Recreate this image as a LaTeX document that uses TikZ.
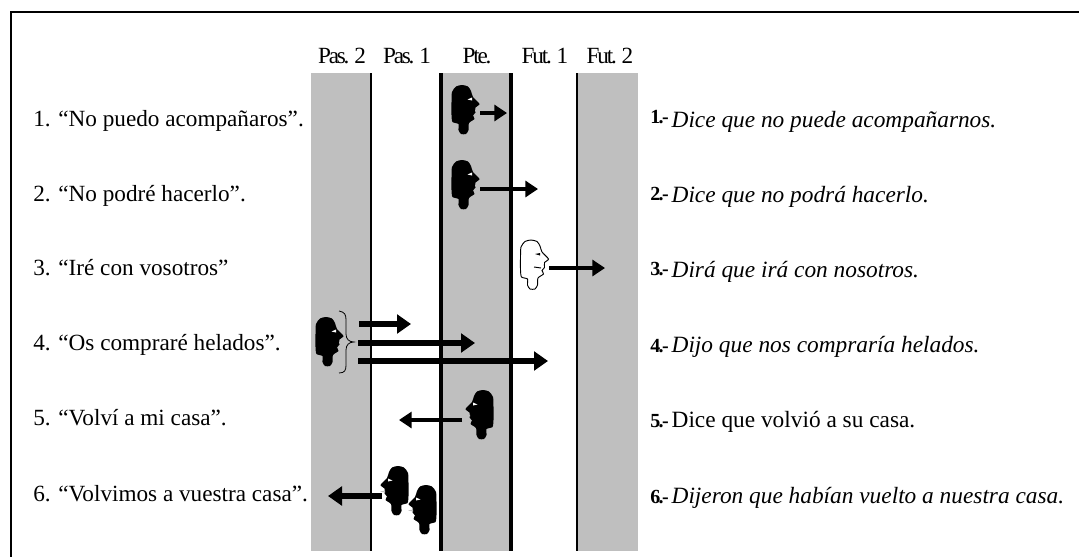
\documentclass[tikz,border=0pt]{standalone}
\usepackage{fontspec}
\setmainfont{Liberation Serif}
\usetikzlibrary{arrows.meta}
\definecolor{mygray}{HTML}{BFBFBF}
\newcommand{\faceline}{plot[smooth cycle,tension=.4] coordinates {(7,12) (11,6.5) (17,5) (23,6.5) (26,11) (28,17) (34.5,24) (30.5,27.5) (30.5,32.5) (28,35.5) (29.5,39) (24,43) (23.5,50) (21,54) (16,54) (13.5,50) (13.5,44) (7.5,42) (6.5,35) (6.5,22)}}
\tikzset{
  x=.75pt, y=-.75pt,
  facedark/.pic={
    \fill[black] \faceline;
    \fill[white] (22.5,19.5) -- (27,17.5) -- (27,20.5) -- cycle;
    \fill[mygray] (30,29.5) -- (35,30.5) -- (30,31.5) -- cycle;
  },
  faceopen/.pic={
    \draw[black,line width=.7pt,fill=white] \faceline;
    \fill[black] (21,19) -- (26,18) -- (26,20.5) -- cycle;
    \draw[black,line width=.7pt] (20,32) -- (27,33);
  },
  bandline/.style={black,line width=#1},
  arrowthin/.style={line width=2.6pt,-{Triangle[length=9.5pt,width=12pt]}},
  arrowthick/.style={line width=4.8pt,-{Triangle[length=10.5pt,width=14pt]}},
  colhead/.style={anchor=base,inner sep=0pt,font=\fontsize{17.4pt}{19pt}\selectfont\addfontfeature{LetterSpace=-9.5}},
  leftlabel/.style={anchor=base west,inner sep=0pt,font=\fontsize{17.4pt}{19pt}\selectfont},
  rightlabel/.style={anchor=base west,inner sep=0pt,font=\fontsize{17.5pt}{19pt}\selectfont},
}
\newcommand{\numtag}[2][0pt]{{\fontsize{15pt}{16pt}\selectfont\bfseries\addfontfeature{LetterSpace=-8}\raisebox{#1}{#2.-}}\hspace{2.2pt}}
\begin{document}
\begin{tikzpicture}
  \useasboundingbox (0,0) rectangle (1079,557);

  \draw[line width=1.5pt] (1079,12) -- (11,12) -- (11,557);

  % bands
  \fill[mygray] (311,73) rectangle (371,551);
  \fill[mygray] (441,73) rectangle (511,551);
  \fill[mygray] (577,73) rectangle (638,551);
  \draw[bandline=1.6pt] (371,73) -- (371,551);
  \draw[bandline=3pt] (441,73) -- (441,551);
  \draw[bandline=3pt] (511,73) -- (511,551);
  \draw[bandline=1.9pt] (577,73) -- (577,551);

  \foreach \x/\name/\txt in {342/pas2/Pas. 2, 407/pas1/Pas. 1, 477/pte/Pte., 545/fut1/Fut. 1, 610/fut2/Fut. 2} {
    \node[colhead] (\name) at (\x,63) {\txt};
  }

  % speakers
  \pic at (445,80) {facedark};
  \pic at (445,155) {facedark};
  \pic at (514,235) {faceopen};
  \pic at (309,312) {facedark};
  \pic[xscale=-1] at (500,385) {facedark};
  \pic[xscale=-1] at (415,461) {facedark};
  \pic[xscale=-1] at (443,480) {facedark};

  \draw[line width=.6pt] (339,311) .. controls (345,312) and (346,315) .. (346,320)
    -- (346,334) .. controls (346,339) and (349,342) .. (354,342)
    .. controls (349,342) and (346,345) .. (346,350)
    -- (346,365) .. controls (346,370) and (345,373) .. (339,373);

  % arrows
  \foreach \z/\xa/\xb/\yy in {1/480/507/113, 2/480/538/189, 3/549/605/268, 5/462/399/420} {
    \coordinate (a\z) at (\xa,\yy);
    \coordinate (b\z) at (\xb,\yy);
    \draw[arrowthin] (a\z) -- (b\z);
  }
  \foreach \z/\xa/\xb/\yy in {4/359/411/324, 6/358/475/343, 7/358/548/361, 8/382/328/496} {
    \coordinate (a\z) at (\xa,\yy);
    \coordinate (b\z) at (\xb,\yy);
    \draw[arrowthick] (a\z) -- (b\z);
  }

  % sentences
  \node[leftlabel] (say1) at (33,126) {1. “No puedo acompañaros”.};
  \node[leftlabel] (say2) at (33,201) {2. “No podré hacerlo”.};
  \node[leftlabel] (say3) at (33,275) {3. “Iré con vosotros”};
  \node[leftlabel] (say4) at (33,350) {4. “Os compraré helados”.};
  \node[leftlabel] (say5) at (33,425) {5. “Volví a mi casa”.};
  \node[leftlabel] (say6) at (33,501) {6. “Volvimos a vuestra casa”.};

  \node[rightlabel] (rep1) at (650,127) {\numtag[3pt]{1}\textit{Dice que no puede acompañarnos.}};
  \node[rightlabel] (rep2) at (650,202) {\numtag[1.5pt]{2}\textit{Dice que no podrá hacerlo.}};
  \node[rightlabel] (rep3) at (650,277) {\numtag[1.5pt]{3}\textit{Dirá que irá con nosotros.}};
  \node[rightlabel] (rep4) at (650,352) {\numtag{4}\textit{Dijo que nos compraría helados.}};
  \node[rightlabel] (rep5) at (650,427) {\numtag{5}Dice que volvió a su casa.};
  \node[rightlabel] (rep6) at (650,503) {\numtag{6}\textit{Dijeron que habían vuelto a nuestra casa.}};
\end{tikzpicture}
\end{document}
